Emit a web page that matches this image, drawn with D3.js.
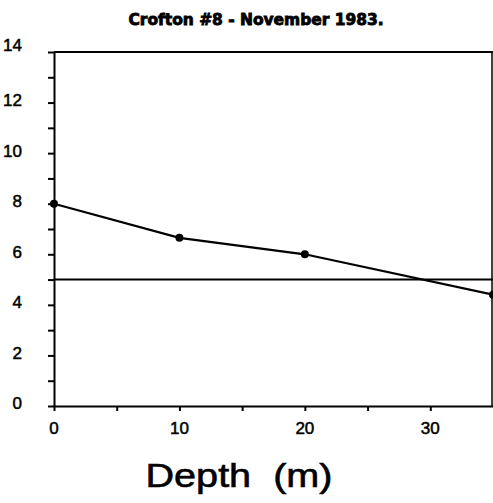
<!DOCTYPE html>
<html>
<head>
<meta charset="utf-8">
<script src="https://cdn.jsdelivr.net/npm/d3@7"></script>
<style>
  body { margin: 0; background: #fff; }
  svg { display: block; }
</style>
</head>
<body>
<div id="wrapper"></div>
<script>
const title = "Crofton #8 - November 1983.";
const depths = [0, 10, 20, 35];
const values = [8, 6.65, 6.0, 4.4];
const refLevel = 5;
const yTicks = [0, 2, 4, 6, 8, 10, 12, 14];
const xTicks = [0, 10, 20, 30];
const xLabel = "Depth (m)";

function drawChart() {
    const dataset = depths.map((d, i) => ({ depth: d, value: values[i] }));
    const xAccessor = dp => dp.depth;
    const yAccessor = dp => dp.value;

    const dimensions = {
        width: 493,
        height: 503,
        margin: { top: 52, right: 0, bottom: 97, left: 54 },
    };
    dimensions.boundedWidth = dimensions.width - dimensions.margin.left - dimensions.margin.right;
    dimensions.boundedHeight = dimensions.height - dimensions.margin.top - dimensions.margin.bottom;

    const wrapper = d3.select("#wrapper")
        .append("svg")
            .attr("width", dimensions.width)
            .attr("height", dimensions.height);

    const bounds = wrapper.append("g")
        .attr("transform", `translate(${dimensions.margin.left},${dimensions.margin.top})`);

    const xScale = d3.scaleLinear()
        .domain([0, 35])
        .range([0, dimensions.boundedWidth]);

    const yScale = d3.scaleLinear()
        .domain([0, 14])
        .range([dimensions.boundedHeight, 0]);

    // frame: top line + right edge
    bounds.append("line")
        .attr("x1", 0).attr("x2", dimensions.boundedWidth)
        .attr("y1", yScale(14)).attr("y2", yScale(14))
        .attr("stroke", "#000").attr("stroke-width", 2);
    bounds.append("line")
        .attr("x1", dimensions.boundedWidth - 1).attr("x2", dimensions.boundedWidth - 1)
        .attr("y1", yScale(14)).attr("y2", dimensions.boundedHeight)
        .attr("stroke", "#000").attr("stroke-width", 1.5);

    // reference level line
    bounds.append("line")
        .attr("x1", 0).attr("x2", dimensions.boundedWidth)
        .attr("y1", yScale(refLevel)).attr("y2", yScale(refLevel))
        .attr("stroke", "#000").attr("stroke-width", 2);

    // axes
    const yAxis = bounds.append("g")
        .call(d3.axisLeft(yScale).ticks(14).tickSize(6).tickSizeOuter(0).tickFormat(""));
    const xAxis = bounds.append("g")
        .attr("transform", `translate(0,${dimensions.boundedHeight})`)
        .call(d3.axisBottom(xScale).tickValues([0, 5, 10, 15, 20, 25, 30]).tickSize(5).tickSizeOuter(0).tickFormat(""));
    [yAxis, xAxis].forEach(ax => {
        ax.select(".domain").attr("stroke-width", 2);
        ax.selectAll(".tick line").attr("stroke-width", 2);
    });

    // tick labels
    const labelStyle = sel => sel
        .attr("font-family", "Liberation Sans, Arial, sans-serif")
        .attr("font-size", 17)
        .attr("fill", "#000")
        .attr("stroke", "#000")
        .attr("stroke-width", 0.5);

    bounds.append("g").selectAll("text")
        .data(yTicks)
        .join("text")
            .attr("x", -32)
            .attr("y", d => yScale(d))
            .attr("dy", d => d === 14 ? "-0.05em" : "0.2em")
            .attr("text-anchor", "end")
            .call(labelStyle)
            .text(d => d);

    bounds.append("g").selectAll("text")
        .data(xTicks)
        .join("text")
            .attr("x", d => xScale(d))
            .attr("y", dimensions.boundedHeight + 28)
            .attr("text-anchor", "middle")
            .call(labelStyle)
            .text(d => d);

    // data line + points
    const lineGenerator = d3.line()
        .x(dp => xScale(xAccessor(dp)))
        .y(dp => yScale(yAccessor(dp)));

    bounds.append("path")
        .attr("d", lineGenerator(dataset))
        .attr("fill", "none")
        .attr("stroke", "#000")
        .attr("stroke-width", 2.2);

    bounds.selectAll("circle")
        .data(dataset)
        .join("circle")
            .attr("cx", dp => xScale(xAccessor(dp)))
            .attr("cy", dp => yScale(yAccessor(dp)))
            .attr("r", 4)
            .attr("fill", "#000");

    // title
    wrapper.append("text")
        .attr("x", 256)
        .attr("y", 25)
        .attr("text-anchor", "middle")
        .attr("font-family", "DejaVu Sans Condensed, Liberation Sans Narrow, sans-serif")
        .attr("font-weight", "bold")
        .attr("font-size", 16)
        .attr("fill", "#000")
        .attr("stroke", "#000")
        .attr("stroke-width", 0.8)
        .attr("textLength", 255)
        .attr("lengthAdjust", "spacingAndGlyphs")
        .text(title);

    // x axis title
    wrapper.append("text")
        .attr("x", 239)
        .attr("y", 487)
        .attr("text-anchor", "middle")
        .attr("font-family", "Liberation Sans, Arial, sans-serif")
        .attr("font-size", 33)
        .attr("fill", "#000")
        .attr("stroke", "#000")
        .attr("stroke-width", 0.6)
        .attr("textLength", 187)
        .attr("lengthAdjust", "spacingAndGlyphs")
        .style("white-space", "pre")
        .text(xLabel.replace(" ", "  "));
}

drawChart();
</script>
</body>
</html>
